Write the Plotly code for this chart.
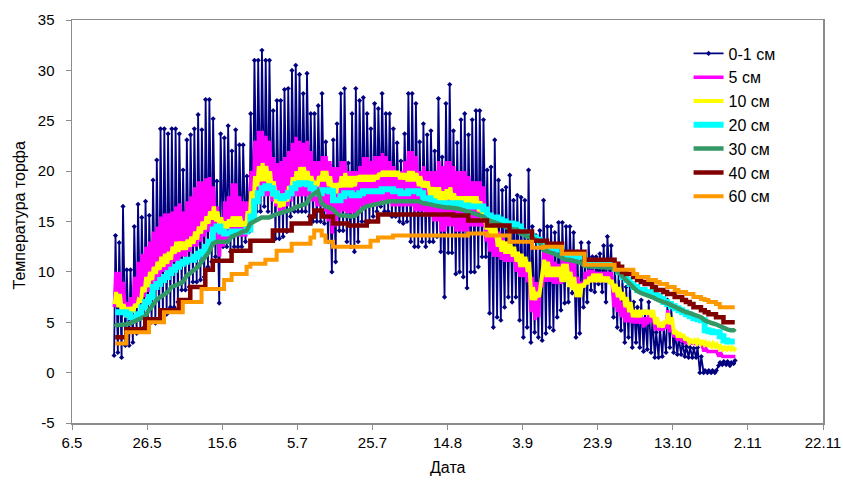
import pandas as pd
import plotly.graph_objects as go

# ---------------- data (one value per day, 17.5 .. 29.10) ----------------
start_day = "2007-05-17"

t01_max = [13.6, 12.9, 16.5, 10.2, 10.2, 14.5, 16.7, 15.4, 17.0, 15.6,
           19.1, 21.1, 24.2, 24.2, 23.7, 24.2, 24.2, 23.7, 20.1, 23.1,
           23.6, 24.2, 25.6, 24.1, 27.1, 27.1, 25.2, 19.0, 23.7, 23.3,
           24.5, 22.0, 24.1, 22.6, 22.6, 19.5, 25.7, 31.0, 31.0, 32.0,
           31.0, 31.0, 26.0, 27.0, 27.0, 28.1, 28.2, 30.0, 30.5, 29.6,
           27.7, 29.7, 25.7, 25.7, 26.5, 27.7, 22.9, 20.6, 23.1, 24.7,
           27.7, 28.2, 20.8, 25.7, 28.2, 27.0, 27.3, 25.7, 24.2, 26.7,
           26.2, 27.7, 25.7, 25.7, 24.2, 22.8, 21.0, 23.7, 27.7, 27.7,
           26.7, 22.9, 24.7, 23.6, 24.0, 22.0, 27.2, 21.4, 26.7, 28.6,
           24.0, 22.8, 25.1, 25.7, 23.6, 25.1, 26.0, 26.0, 25.1, 20.1,
           20.4, 23.1, 19.1, 18.1, 18.4, 19.6, 17.1, 17.6, 17.4, 17.1,
           20.1, 14.5, 13.6, 14.1, 17.1, 14.5, 14.5, 13.9, 14.9, 14.9,
           14.5, 14.5, 13.9, 12.0, 12.9, 11.0, 12.9, 11.5, 11.5, 11.8,
           12.6, 13.5, 12.6, 10.5, 10.0, 9.5, 8.5, 9.0, 7.0, 6.5,
           7.2, 6.0, 7.0, 5.5, 4.0, 4.5, 4.5, 7.2, 6.5, 4.0,
           3.5, 3.0, 2.6, 2.5, 2.4, 2.5, 1.6, 0.2, 0.2, 0.2,
           0.2, 1.0, 1.1, 1.1, 1.0, 1.2]
t01_min = [1.7, 2.0, 1.5, 2.7, 2.7, 3.0, 3.9, 4.2, 4.5, 4.8,
           5.0, 4.9, 5.2, 5.5, 5.8, 6.5, 6.5, 7.0, 8.2, 8.2,
           8.5, 9.0, 9.0, 9.2, 9.5, 10.5, 11.0, 11.5, 6.9, 12.5,
           12.5, 12.0, 12.5, 12.5, 12.5, 13.0, 14.0, 15.5, 16.0, 16.0,
           16.5, 16.0, 15.5, 13.3, 13.3, 13.5, 14.0, 15.5, 16.0, 16.0,
           16.0, 16.0, 15.5, 15.0, 15.0, 15.0, 14.8, 13.0, 10.0, 11.0,
           14.1, 14.1, 13.0, 12.5, 12.0, 13.0, 15.0, 15.0, 15.0, 15.5,
           16.0, 16.5, 16.0, 16.0, 15.5, 15.5, 15.0, 14.8, 15.0, 13.0,
           12.5, 12.5, 13.0, 12.5, 13.0, 13.0, 13.5, 12.0, 7.5, 11.9,
           11.9, 9.8, 10.0, 9.5, 8.4, 10.0, 10.0, 10.5, 11.5, 11.5,
           5.9, 4.5, 5.5, 5.2, 6.5, 7.5, 7.0, 7.5, 5.2, 3.5,
           4.5, 3.0, 4.0, 3.5, 3.2, 3.9, 4.5, 4.2, 5.5, 6.2,
           6.9, 7.0, 7.9, 3.5, 3.9, 6.5, 7.0, 8.2, 8.0, 8.8,
           8.0, 7.0, 9.0, 5.5, 4.5, 4.2, 3.0, 3.5, 2.5, 3.0,
           2.5, 2.1, 2.3, 2.0, 1.5, 1.5, 1.6, 2.0, 2.5, 2.0,
           1.8, 1.8, 1.6, 1.5, 1.5, 1.5, 0.0, 0.0, 0.0, 0.0,
           0.0, 0.7, 0.8, 0.8, 0.7, 0.9]

t5_max = [10.0, 10.0, 9.0, 7.0, 7.5, 9.5, 11.0, 11.8, 12.5, 13.0,
          14.0, 14.5, 15.5, 15.8, 15.8, 16.0, 16.5, 16.8, 16.0, 17.0,
          17.5, 18.4, 19.0, 19.0, 19.3, 19.4, 18.5, 16.5, 15.4, 17.0,
          17.5, 18.8, 18.8, 17.5, 17.0, 17.0, 20.0, 23.0, 24.0, 24.0,
          23.5, 23.0, 21.4, 20.8, 21.0, 21.4, 22.0, 22.8, 23.4, 23.0,
          22.8, 23.0, 22.0, 21.0, 21.0, 21.5, 21.5, 21.0, 20.4, 20.4,
          21.0, 21.0, 20.0, 20.0, 20.0, 20.5, 21.4, 21.4, 21.0, 21.5,
          21.5, 21.8, 21.5, 21.0, 20.5, 20.0, 20.0, 21.0, 22.0, 22.0,
          21.5, 20.0, 20.5, 20.0, 20.0, 20.0, 21.0, 20.5, 21.0, 21.0,
          20.5, 20.0, 20.0, 20.0, 19.5, 19.0, 19.0, 19.0, 18.5, 16.0,
          15.0, 15.0, 14.0, 13.5, 13.0, 12.5, 12.0, 11.5, 11.0, 11.0,
          10.5, 9.5, 9.0, 9.0, 12.0, 12.5, 12.0, 11.0, 10.8, 11.5,
          12.0, 12.0, 11.5, 9.5, 9.0, 10.0, 10.2, 10.2, 10.0, 10.0,
          10.0, 10.0, 10.0, 8.5, 7.5, 7.0, 6.5, 6.2, 5.5, 5.5,
          5.5, 5.5, 6.0, 6.2, 5.0, 4.6, 4.5, 6.2, 5.5, 4.0,
          3.5, 3.4, 3.2, 3.0, 2.9, 2.9, 2.9, 2.5, 2.1, 2.1,
          2.1, 2.0, 1.6, 1.6, 1.6, 1.6]
t5_min = [6.5, 6.5, 6.0, 5.5, 5.5, 6.0, 6.5, 7.0, 7.5, 8.0,
          8.5, 9.0, 9.5, 10.0, 10.0, 10.5, 11.0, 11.0, 11.5, 11.5,
          12.0, 12.5, 12.5, 13.0, 13.5, 14.0, 14.0, 13.0, 11.5, 12.5,
          13.0, 13.5, 13.5, 13.5, 13.5, 13.5, 14.5, 16.0, 17.0, 17.5,
          17.5, 17.5, 17.0, 16.5, 16.0, 16.0, 16.5, 17.0, 17.5, 17.5,
          17.5, 17.5, 17.0, 17.0, 16.5, 16.5, 16.0, 15.0, 13.8, 14.5,
          15.5, 16.0, 15.8, 15.8, 15.8, 16.0, 16.5, 16.5, 16.5, 16.5,
          16.5, 17.0, 17.0, 17.0, 16.5, 16.5, 16.5, 16.5, 16.5, 16.5,
          16.0, 16.0, 16.0, 15.5, 15.5, 15.0, 15.0, 14.0, 14.0, 14.5,
          14.5, 14.0, 14.0, 14.0, 14.0, 14.5, 14.5, 14.5, 14.5, 13.0,
          12.0, 11.5, 11.5, 11.2, 11.0, 11.0, 11.0, 10.0, 9.5, 9.5,
          9.0, 6.0, 5.2, 5.5, 8.5, 9.0, 9.0, 8.8, 8.8, 8.8,
          9.0, 9.0, 9.0, 7.5, 7.5, 8.5, 9.0, 9.0, 9.0, 9.0,
          9.0, 9.0, 9.0, 6.5, 6.0, 5.5, 5.0, 5.0, 4.9, 4.9,
          4.9, 4.5, 4.8, 5.0, 4.2, 4.2, 4.2, 4.5, 4.0, 3.5,
          3.2, 3.2, 3.0, 2.9, 2.9, 2.9, 2.9, 2.1, 2.1, 2.1,
          2.1, 1.6, 1.6, 1.6, 1.6, 1.6]

t10_max = [8.0, 7.8, 6.8, 6.5, 6.5, 6.8, 7.2, 8.5, 9.5, 10.0,
           10.5, 11.0, 11.5, 11.8, 12.0, 12.5, 13.0, 13.0, 13.0, 13.2,
           13.5, 14.0, 14.5, 15.0, 15.5, 16.0, 16.5, 16.0, 15.4, 15.0,
           15.2, 15.5, 15.5, 15.5, 15.0, 16.0, 18.0, 19.5, 20.5, 20.8,
           20.5, 20.0, 19.0, 18.0, 17.4, 17.8, 18.5, 19.4, 20.0, 20.4,
           20.4, 20.0, 19.5, 19.0, 19.5, 20.0, 20.0, 19.5, 18.8, 18.8,
           19.5, 19.8, 19.5, 19.5, 19.5, 19.6, 19.6, 19.6, 19.6, 19.6,
           19.8, 20.0, 20.0, 20.0, 20.0, 20.0, 19.8, 19.8, 20.0, 20.0,
           19.8, 19.5, 19.0, 19.0, 18.4, 18.4, 18.4, 18.0, 18.2, 18.4,
           17.8, 17.5, 17.5, 17.5, 17.5, 17.5, 17.5, 17.0, 16.0, 15.4,
           15.0, 14.5, 13.5, 13.1, 13.0, 12.8, 12.5, 12.0, 11.8, 11.5,
           11.0, 8.5, 8.0, 8.5, 11.2, 11.0, 10.5, 10.5, 10.5, 10.8,
           10.8, 10.0, 9.5, 8.8, 8.8, 9.2, 9.5, 9.8, 9.8, 9.8,
           9.5, 9.5, 9.2, 8.8, 8.5, 8.0, 7.5, 7.0, 6.2, 6.2,
           6.2, 6.2, 6.2, 6.2, 5.5, 5.0, 5.0, 5.9, 5.5, 4.2,
           4.0, 3.8, 3.5, 3.2, 3.2, 3.2, 3.2, 3.0, 2.9, 2.9,
           2.8, 2.6, 2.5, 2.5, 2.5, 2.5]
t10_min = [6.8, 6.5, 5.8, 5.5, 5.5, 6.0, 6.5, 7.0, 8.0, 8.5,
           9.2, 9.8, 10.2, 10.5, 10.8, 11.2, 11.8, 12.0, 12.2, 12.2,
           12.5, 12.8, 13.2, 13.8, 14.2, 14.8, 15.2, 15.0, 14.1, 14.1,
           14.3, 14.5, 14.5, 14.5, 14.5, 14.5, 15.5, 17.0, 18.5, 19.0,
           19.0, 18.5, 17.5, 16.8, 16.4, 16.5, 17.0, 17.8, 18.5, 19.0,
           19.0, 19.0, 18.5, 18.5, 18.5, 19.0, 19.0, 18.5, 17.8, 17.8,
           18.4, 18.4, 18.4, 18.4, 18.5, 19.0, 19.0, 19.0, 19.0, 19.0,
           19.2, 19.5, 19.5, 19.5, 19.5, 19.5, 19.2, 19.2, 19.0, 19.0,
           19.0, 18.5, 18.4, 18.4, 17.5, 17.2, 17.0, 17.0, 17.0, 17.2,
           16.8, 16.5, 16.4, 16.4, 16.4, 16.4, 16.4, 16.0, 15.0, 14.2,
           13.8, 13.5, 12.5, 12.0, 11.8, 11.8, 11.5, 11.0, 10.5, 10.5,
           10.0, 7.2, 7.2, 7.5, 9.8, 9.5, 9.5, 9.5, 9.5, 9.0,
           9.0, 8.5, 8.2, 7.5, 7.5, 8.5, 8.8, 9.0, 9.0, 9.0,
           9.0, 9.0, 8.8, 8.0, 7.5, 7.2, 6.5, 6.0, 5.5, 5.5,
           5.5, 5.8, 5.8, 5.5, 4.8, 4.5, 4.5, 5.0, 4.8, 3.8,
           3.5, 3.5, 3.2, 3.0, 3.0, 2.9, 2.9, 2.8, 2.7, 2.6,
           2.6, 2.4, 2.3, 2.3, 2.3, 2.3]

t20 = [6.0, 6.0, 6.0, 5.8, 5.5, 5.5, 5.8, 6.5, 7.0, 7.5,
       8.5, 8.8, 9.2, 9.5, 9.9, 10.2, 10.5, 10.8, 11.0, 11.2,
       11.2, 11.5, 11.8, 12.0, 12.5, 13.0, 14.2, 14.5, 14.0, 13.8,
       13.8, 14.0, 14.0, 14.0, 14.0, 14.2, 15.5, 17.0, 17.8, 18.3,
       18.5, 18.3, 17.8, 17.5, 17.3, 17.5, 17.8, 18.3, 18.7, 18.8,
       18.8, 18.7, 18.3, 17.8, 17.8, 18.1, 18.1, 18.0, 17.1, 17.1,
       17.5, 17.8, 17.8, 17.6, 17.6, 17.8, 18.0, 18.0, 18.0, 18.0,
       18.0, 18.2, 18.2, 18.2, 18.0, 18.0, 17.8, 17.8, 18.0, 18.0,
       18.0, 17.8, 17.3, 17.3, 17.0, 16.8, 16.8, 16.8, 16.8, 16.8,
       16.8, 16.8, 16.6, 16.6, 16.5, 16.5, 16.5, 16.5, 16.2, 15.6,
       15.4, 15.4, 15.2, 15.0, 14.8, 14.8, 14.7, 14.5, 14.0, 13.8,
       13.6, 13.4, 13.2, 13.0, 12.6, 12.4, 12.3, 12.3, 12.2, 11.8,
       11.6, 11.6, 11.6, 11.5, 11.5, 11.0, 10.8, 10.8, 10.8, 10.8,
       10.8, 10.8, 10.6, 10.3, 10.0, 9.5, 9.2, 8.8, 8.5, 8.2,
       8.2, 8.0, 8.0, 7.9, 7.6, 7.3, 7.0, 6.8, 6.6, 6.4,
       6.2, 6.0, 5.8, 5.6, 5.4, 5.3, 5.2, 4.2, 4.1, 4.0,
       4.0, 3.6, 3.2, 3.1, 3.1, 3.1]

t30 = [4.7, 4.7, 4.8, 4.8, 4.9, 5.1, 5.2, 5.4, 5.6, 6.2,
       6.8, 7.2, 7.5, 7.8, 8.0, 8.5, 8.6, 8.8, 9.0, 9.6,
       9.9, 10.2, 10.5, 11.0, 11.5, 12.0, 12.8, 13.0, 13.0, 13.0,
       13.0, 13.5, 13.6, 13.8, 14.0, 14.1, 14.8, 15.0, 15.2, 15.4,
       15.4, 15.4, 15.6, 15.7, 15.8, 15.9, 16.0, 16.2, 16.4, 16.5,
       16.6, 16.8, 17.5, 17.8, 18.0, 16.8, 16.5, 16.4, 16.2, 15.8,
       15.6, 15.6, 15.5, 15.5, 15.6, 16.0, 16.3, 16.5, 16.6, 16.7,
       16.8, 16.8, 16.9, 17.0, 17.0, 17.0, 17.0, 17.0, 17.0, 17.0,
       17.0, 17.0, 16.8, 16.8, 16.7, 16.6, 16.5, 16.4, 16.4, 16.4,
       16.4, 16.3, 16.2, 16.1, 16.0, 15.8, 15.8, 15.7, 15.5, 15.2,
       15.0, 14.9, 14.8, 14.6, 14.4, 14.3, 14.2, 14.2, 13.8, 13.6,
       13.5, 13.4, 13.2, 13.0, 12.2, 12.0, 11.9, 11.8, 11.6, 11.3,
       11.2, 11.2, 11.1, 11.0, 10.9, 10.6, 10.5, 10.5, 10.5, 10.5,
       10.5, 10.4, 10.4, 10.3, 10.0, 9.6, 9.2, 8.8, 8.4, 8.1,
       7.9, 7.8, 7.6, 7.5, 7.3, 7.1, 7.0, 6.9, 6.7, 6.5,
       6.3, 6.1, 6.0, 5.9, 5.8, 5.6, 5.5, 5.2, 5.0, 4.9,
       4.8, 4.6, 4.4, 4.3, 4.2, 4.2]

t40 = [3.5, 3.5, 3.5, 4.3, 4.3, 4.3, 4.3, 4.3, 5.3, 5.3,
       5.3, 5.3, 6.2, 6.2, 6.2, 6.2, 6.2, 7.2, 7.2, 7.2,
       8.5, 8.5, 8.5, 8.5, 10.2, 10.2, 11.1, 11.1, 11.1, 11.1,
       11.1, 12.1, 12.1, 12.1, 12.1, 12.1, 13.1, 13.1, 13.1, 13.1,
       13.1, 13.1, 14.1, 14.1, 14.1, 14.1, 14.1, 14.8, 14.8, 14.8,
       14.8, 14.8, 15.5, 16.1, 16.1, 15.5, 15.5, 15.5, 14.8, 14.8,
       14.8, 14.8, 14.6, 14.6, 14.6, 14.6, 14.6, 15.0, 15.0, 15.0,
       15.7, 15.7, 15.7, 15.7, 15.7, 15.7, 15.7, 15.7, 15.7, 15.7,
       15.7, 15.7, 15.7, 15.7, 15.7, 15.7, 15.7, 15.7, 15.7, 15.7,
       15.6, 15.6, 15.6, 15.6, 15.1, 15.1, 15.1, 15.1, 15.1, 14.6,
       14.6, 14.6, 14.6, 14.6, 14.6, 14.0, 14.0, 14.0, 14.0, 14.0,
       14.0, 13.1, 13.1, 13.1, 13.1, 12.8, 12.8, 12.8, 12.8, 12.0,
       12.0, 12.0, 12.0, 12.0, 12.0, 11.2, 11.2, 11.2, 11.2, 11.2,
       11.2, 11.2, 11.2, 10.8, 10.5, 10.0, 9.8, 9.8, 9.5, 9.2,
       9.0, 8.8, 8.8, 8.5, 8.2, 8.2, 8.0, 7.8, 7.8, 7.5,
       7.5, 7.2, 7.0, 6.8, 6.5, 6.5, 6.2, 6.0, 5.8, 5.8,
       5.5, 5.5, 5.0, 5.0, 5.0, 5.0]

t60 = [2.9, 2.9, 2.9, 4.0, 4.0, 4.0, 4.0, 4.0, 4.0, 5.0,
       5.0, 5.0, 5.0, 6.0, 6.0, 6.0, 6.0, 6.0, 7.0, 7.0,
       7.0, 7.0, 7.0, 8.3, 8.3, 8.3, 8.3, 8.3, 8.3, 9.2,
       9.2, 9.8, 9.8, 9.8, 9.8, 10.5, 10.8, 10.8, 10.8, 10.8,
       11.2, 11.2, 11.2, 12.1, 12.1, 12.1, 12.1, 12.8, 12.8, 12.8,
       12.8, 12.8, 13.4, 14.1, 14.1, 13.6, 13.0, 13.0, 12.5, 12.5,
       12.5, 12.5, 12.5, 12.5, 12.5, 12.5, 12.5, 12.5, 13.1, 13.1,
       13.4, 13.4, 13.4, 13.4, 13.6, 13.6, 13.6, 13.6, 13.6, 13.6,
       13.6, 13.6, 13.6, 13.6, 13.6, 13.6, 13.6, 13.6, 13.6, 13.6,
       13.6, 13.6, 13.6, 13.6, 13.8, 13.8, 13.8, 13.8, 13.8, 13.6,
       13.6, 13.6, 13.6, 13.6, 13.6, 13.0, 13.0, 13.0, 13.0, 13.0,
       13.0, 12.4, 12.4, 12.4, 12.5, 12.5, 12.5, 12.5, 12.5, 11.8,
       11.8, 11.8, 11.8, 11.8, 11.8, 10.7, 10.7, 10.7, 10.7, 10.7,
       10.7, 10.7, 10.7, 10.2, 10.2, 10.2, 10.2, 10.2, 9.8, 9.5,
       9.5, 9.5, 9.2, 9.2, 9.0, 8.8, 8.8, 8.5, 8.5, 8.2,
       8.0, 8.0, 7.8, 7.8, 7.5, 7.5, 7.3, 7.2, 7.0, 7.0,
       6.8, 6.5, 6.5, 6.5, 6.5, 6.5]

tick_dates = ["2007-05-06", "2007-05-26", "2007-06-15", "2007-07-05", "2007-07-25", "2007-08-14",
              "2007-09-03", "2007-09-23", "2007-10-13", "2007-11-02", "2007-11-22"]
tick_labels = ["6.5", "26.5", "15.6", "5.7", "25.7", "14.8", "3.9", "23.9", "13.10", "2.11", "22.11"]
y_ticks = [-5, 0, 5, 10, 15, 20, 25, 30, 35]

names = ["0-1 см", "5 см", "10 см", "20 см", "30 см", "40 см", "60 см"]
colors = ["#000080", "#FF00FF", "#FFFF00", "#00FFFF", "#339966", "#800000", "#FF9900"]

series = [t01_max, t01_min, t5_max, t5_min, t10_max, t10_min, t20, t30, t40, t60]
n = len(t01_max)
assert all(len(s) == n for s in series), [len(s) for s in series]

days = [pd.Timestamp(start_day) + pd.Timedelta(days=i) for i in range(n)]


def daily_pair(lows, highs, h_low, h_high):
    xs, ys = [], []
    for d, lo, hi in zip(days, lows, highs):
        xs += [d + pd.Timedelta(hours=h_low), d + pd.Timedelta(hours=h_high)]
        ys += [lo, hi]
    return xs, ys


def daily_single(vals, h=12):
    return [d + pd.Timedelta(hours=h) for d in days], vals


fig = go.Figure()

x, y = daily_pair(t01_min, t01_max, 5, 14)
fig.add_trace(go.Scatter(x=x, y=y, name=names[0], mode="lines+markers",
                         line=dict(color=colors[0], width=1.8),
                         marker=dict(symbol="diamond", size=4, color=colors[0])))
x, y = daily_pair(t5_min, t5_max, 7, 16)
fig.add_trace(go.Scatter(x=x, y=y, name=names[1], mode="lines",
                         line=dict(color=colors[1], width=3.5)))
x, y = daily_pair(t10_min, t10_max, 9, 18)
fig.add_trace(go.Scatter(x=x, y=y, name=names[2], mode="lines",
                         line=dict(color=colors[2], width=4)))
x, y = daily_single(t20)
fig.add_trace(go.Scatter(x=x, y=y, name=names[3], mode="lines", line_shape="hv",
                         line=dict(color=colors[3], width=6)))
x, y = daily_single(t30)
fig.add_trace(go.Scatter(x=x, y=y, name=names[4], mode="lines+markers",
                         line=dict(color=colors[4], width=4.5),
                         marker=dict(size=3, color=colors[4])))
x, y = daily_single(t40)
fig.add_trace(go.Scatter(x=x, y=y, name=names[5], mode="lines", line_shape="hv",
                         line=dict(color=colors[5], width=4.5)))
x, y = daily_single(t60)
fig.add_trace(go.Scatter(x=x, y=y, name=names[6], mode="lines", line_shape="hv",
                         line=dict(color=colors[6], width=4)))

axis_common = dict(showline=True, linecolor="#8c8c8c", linewidth=1.5, mirror=True,
                   showgrid=False, zeroline=False, ticks="outside", ticklen=5,
                   tickcolor="#8c8c8c", automargin=False,
                   tickfont=dict(family="Liberation Sans, Arial", size=15, color="black"))

fig.update_layout(
    width=843, height=480,
    margin=dict(l=72, r=20, t=20, b=57),
    paper_bgcolor="white", plot_bgcolor="white",
    font=dict(family="Liberation Sans, Arial", size=15, color="black"),
    xaxis=dict(type="date", range=[tick_dates[0], tick_dates[-1]],
               tickmode="array", tickvals=tick_dates, ticktext=tick_labels, **axis_common),
    yaxis=dict(range=[-5, 35], tickmode="array", tickvals=y_ticks,
               ticktext=[str(v) for v in y_ticks], ticklabelstandoff=8, **axis_common),
    legend=dict(x=0.821, y=0.959, xanchor="left", yanchor="top",
                font=dict(size=16, color="black"), bgcolor="rgba(0,0,0,0)",
                tracegroupgap=0),
    showlegend=True,
    annotations=[
        dict(text="Температура торфа", xref="paper", yref="paper", x=-0.0706, y=0.515,
             xanchor="center", yanchor="middle", textangle=-90, showarrow=False,
             font=dict(size=16)),
        dict(text="Дата", xref="paper", yref="paper", x=0.5, y=-0.11,
             xanchor="center", yanchor="middle", showarrow=False, font=dict(size=16)),
    ],
)

# remove the default page margin so the 843x480 figure fills the window exactly
fig.write_html("out.html",
               config={"displayModeBar": False, "staticPlot": True},
               post_script="document.body.style.margin='0';document.body.style.overflow='hidden';")
